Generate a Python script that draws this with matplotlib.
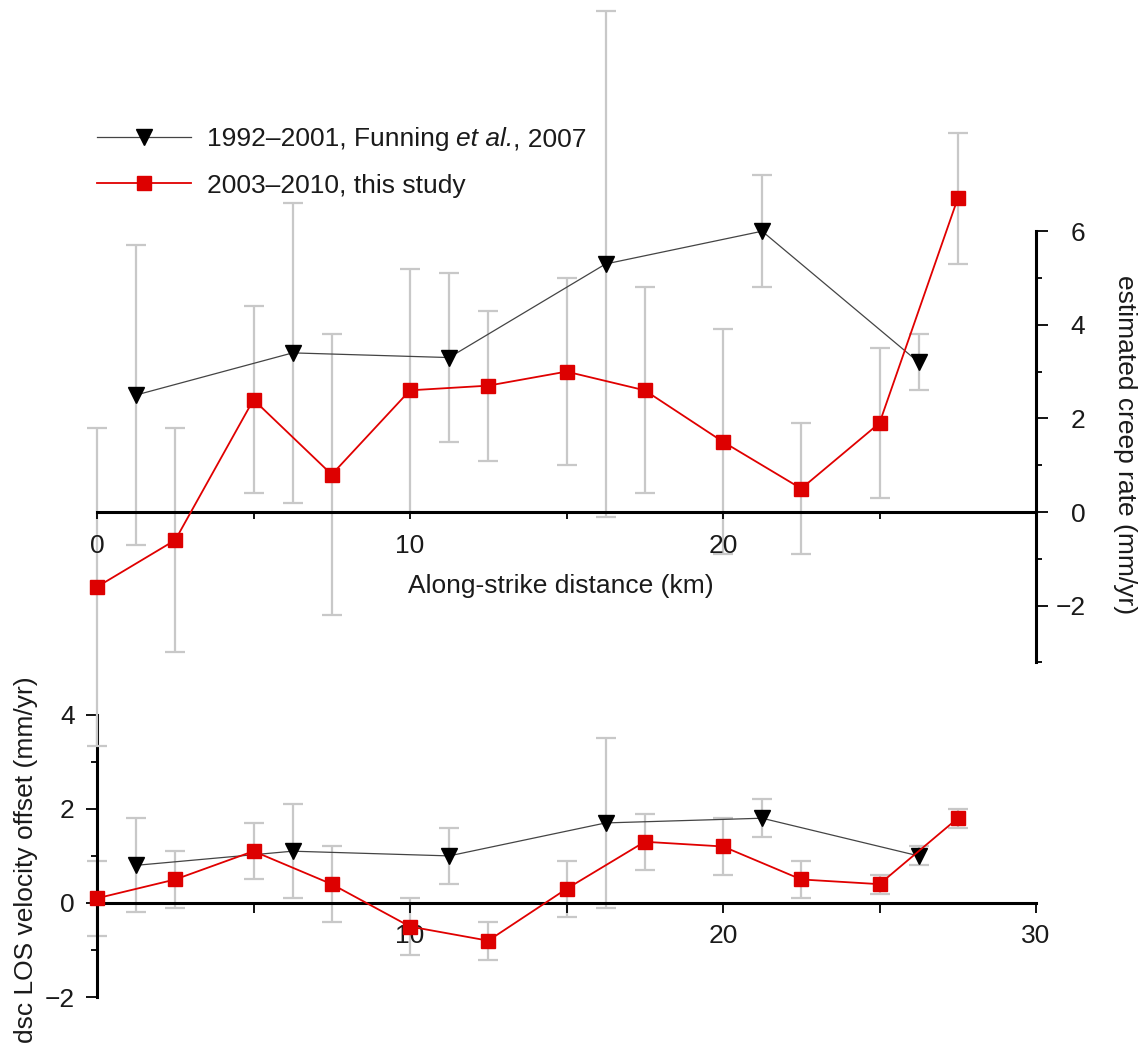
import matplotlib
matplotlib.use("Agg")
import matplotlib.pyplot as plt
from matplotlib.ticker import FixedLocator

plt.rcParams['font.family'] = ['Liberation Sans', 'DejaVu Sans']

# along-strike positions (km)
x_red = [0, 2.5, 5, 7.5, 10, 12.5, 15, 17.5, 20, 22.5, 25, 27.5]
x_blk = [1.25, 6.25, 11.25, 16.25, 21.25, 26.25]

# estimated creep rate (mm/yr)
creep_red = [-1.6, -0.6, 2.4, 0.8, 2.6, 2.7, 3.0, 2.6, 1.5, 0.5, 1.9, 6.7]
creep_red_err = [3.4, 2.4, 2.0, 3.0, 2.6, 1.6, 2.0, 2.2, 2.4, 1.4, 1.6, 1.4]
creep_blk = [2.5, 3.4, 3.3, 5.3, 6.0, 3.2]
creep_blk_err = [3.2, 3.2, 1.8, 5.4, 1.2, 0.6]

# descending LOS velocity offset (mm/yr)
los_red = [0.1, 0.5, 1.1, 0.4, -0.5, -0.8, 0.3, 1.3, 1.2, 0.5, 0.4, 1.8]
los_red_err = [0.8, 0.6, 0.6, 0.8, 0.6, 0.4, 0.6, 0.6, 0.6, 0.4, 0.2, 0.2]
los_blk = [0.8, 1.1, 1.0, 1.7, 1.8, 1.0]
los_blk_err = [1.0, 1.0, 0.6, 1.8, 0.4, 0.2]

# black label is split so "et al." can be set in italics
lab_blk = ['1992\u20132001, Funning', 'et al.', ', 2007']
lab_red = '2003\u20132010, this study'

W, H = 1141, 1044
fig = plt.figure(figsize=(W / 100, H / 100), dpi=100)

x0, x30 = 97, 1036
pos = [x0 / W, 0, (x30 - x0) / W, 1]

ERR_C = '#c8c8c8'
RED = '#e00000'
BLK_LINE = '#444444'
TXT = '#1a1a1a'
FS = 19


def draw_series(ax, xr, yr, er, xb, yb, eb):
    ax.errorbar(xr, yr, yerr=er, fmt='none', ecolor=ERR_C, elinewidth=1.6,
                capsize=7, capthick=1.6, zorder=1, clip_on=False)
    ax.errorbar(xb, yb, yerr=eb, fmt='none', ecolor=ERR_C, elinewidth=1.6,
                capsize=7, capthick=1.6, zorder=1, clip_on=False)
    lb, = ax.plot(xb, yb, color=BLK_LINE, lw=0.9, marker='v', ms=11,
                  mfc='black', mec='black', zorder=3, clip_on=False)
    lr, = ax.plot(xr, yr, color=RED, lw=1.3, marker='s', ms=10,
                  mfc='#dd0000', mec='#dd0000', zorder=4, clip_on=False)
    return lb, lr


# lower panel: LOS offset
axb = fig.add_axes(pos)
axb.patch.set_alpha(0)
y0b, sb = 903, 47.1
axb.set_xlim(0, 30)
axb.set_ylim(-(H - y0b) / sb, y0b / sb)
draw_series(axb, x_red, los_red, los_red_err, x_blk, los_blk, los_blk_err)
for s in ['top', 'right']:
    axb.spines[s].set_visible(False)
axb.spines['bottom'].set_position(('data', 0))
axb.spines['bottom'].set_bounds(0, 30)
axb.spines['left'].set_bounds(-2, 4)
for s in ['bottom', 'left']:
    axb.spines[s].set_linewidth(2.2)
    axb.spines[s].set_zorder(2)
axb.xaxis.set_major_locator(FixedLocator([10, 20, 30]))
axb.xaxis.set_minor_locator(FixedLocator([5, 15, 25]))
axb.yaxis.set_major_locator(FixedLocator([-2, 0, 2, 4]))
axb.yaxis.set_minor_locator(FixedLocator([-1, 1, 3]))
axb.tick_params(axis='x', which='major', length=7, width=1.3, labelsize=FS,
                labelcolor=TXT, pad=8)
axb.tick_params(axis='x', which='minor', length=7, width=1.3)
axb.tick_params(axis='y', which='major', length=8, width=1.3, labelsize=FS,
                labelcolor=TXT, pad=8)
axb.tick_params(axis='y', which='minor', length=4, width=1.3)
axb.set_yticklabels(['\u22122', '0', '2', '4'])

# upper panel: creep rate
axt = fig.add_axes(pos)
axt.patch.set_alpha(0)
y0t, st = 512, 46.8
axt.set_xlim(0, 30)
axt.set_ylim(-(H - y0t) / st, y0t / st)
lb, lr = draw_series(axt, x_red, creep_red, creep_red_err,
                     x_blk, creep_blk, creep_blk_err)
for s in ['top', 'left']:
    axt.spines[s].set_visible(False)
axt.spines['bottom'].set_position(('data', 0))
axt.spines['bottom'].set_bounds(0, 30)
axt.spines['right'].set_bounds(-3.2, 6)
for s in ['bottom', 'right']:
    axt.spines[s].set_linewidth(2.2)
    axt.spines[s].set_zorder(2)
axt.yaxis.tick_right()
axt.xaxis.set_major_locator(FixedLocator([0, 10, 20]))
axt.xaxis.set_minor_locator(FixedLocator([5, 15, 25]))
axt.yaxis.set_major_locator(FixedLocator([-2, 0, 2, 4, 6]))
axt.yaxis.set_minor_locator(FixedLocator([-3.2, -1, 1, 3, 5]))
axt.tick_params(axis='x', which='both', length=5, width=1.3, labelsize=FS,
                labelcolor=TXT, pad=11)
axt.tick_params(axis='y', which='major', length=8.6, width=1.3, labelsize=FS,
                labelcolor=TXT, pad=27)
axt.tick_params(axis='y', which='minor', length=4.3, width=1.3)
axt.set_yticklabels(['\u22122', '0', '2', '4', '6'])
for t in axt.get_yticklabels():
    t.set_horizontalalignment('right')

leg = axt.legend([lb, lr], [lab_blk[0], lab_red], loc='upper left',
                 bbox_to_anchor=(97 / W, 1 - 127 / H),
                 bbox_transform=fig.transFigure,
                 frameon=False, fontsize=FS, handlelength=3.55,
                 handletextpad=0.6, labelspacing=0.86, borderaxespad=0,
                 borderpad=0, markerscale=1.0, labelcolor=TXT)

fig.text(561 / W, 1 - 586 / H, 'Along-strike distance (km)', ha='center',
         va='center', fontsize=FS, color=TXT)
fig.text(1125 / W, 1 - 445 / H, 'estimated creep rate (mm/yr)', ha='center',
         va='center', rotation=270, fontsize=FS, color=TXT)
fig.text(26 / W, 1 - 860 / H, 'dsc LOS velocity offset (mm/yr)', ha='center',
         va='center', rotation=90, fontsize=FS, color=TXT)

# rest of the first legend entry, placed on the same baseline once laid out
fig.canvas.draw()
rend = fig.canvas.get_renderer()
t_first = leg.get_texts()[0]
bb = t_first.get_window_extent(rend)
base_y = t_first.get_transform().transform(t_first.get_position())[1]
t_ital = fig.text((bb.x1 + 7) / W, base_y / H, lab_blk[1], ha='left',
                  va='baseline', fontsize=FS, color=TXT, style='italic')
bb2 = t_ital.get_window_extent(rend)
fig.text(bb2.x1 / W, base_y / H, lab_blk[2], ha='left', va='baseline',
         fontsize=FS, color=TXT)

fig.savefig('out.png', dpi=100)
